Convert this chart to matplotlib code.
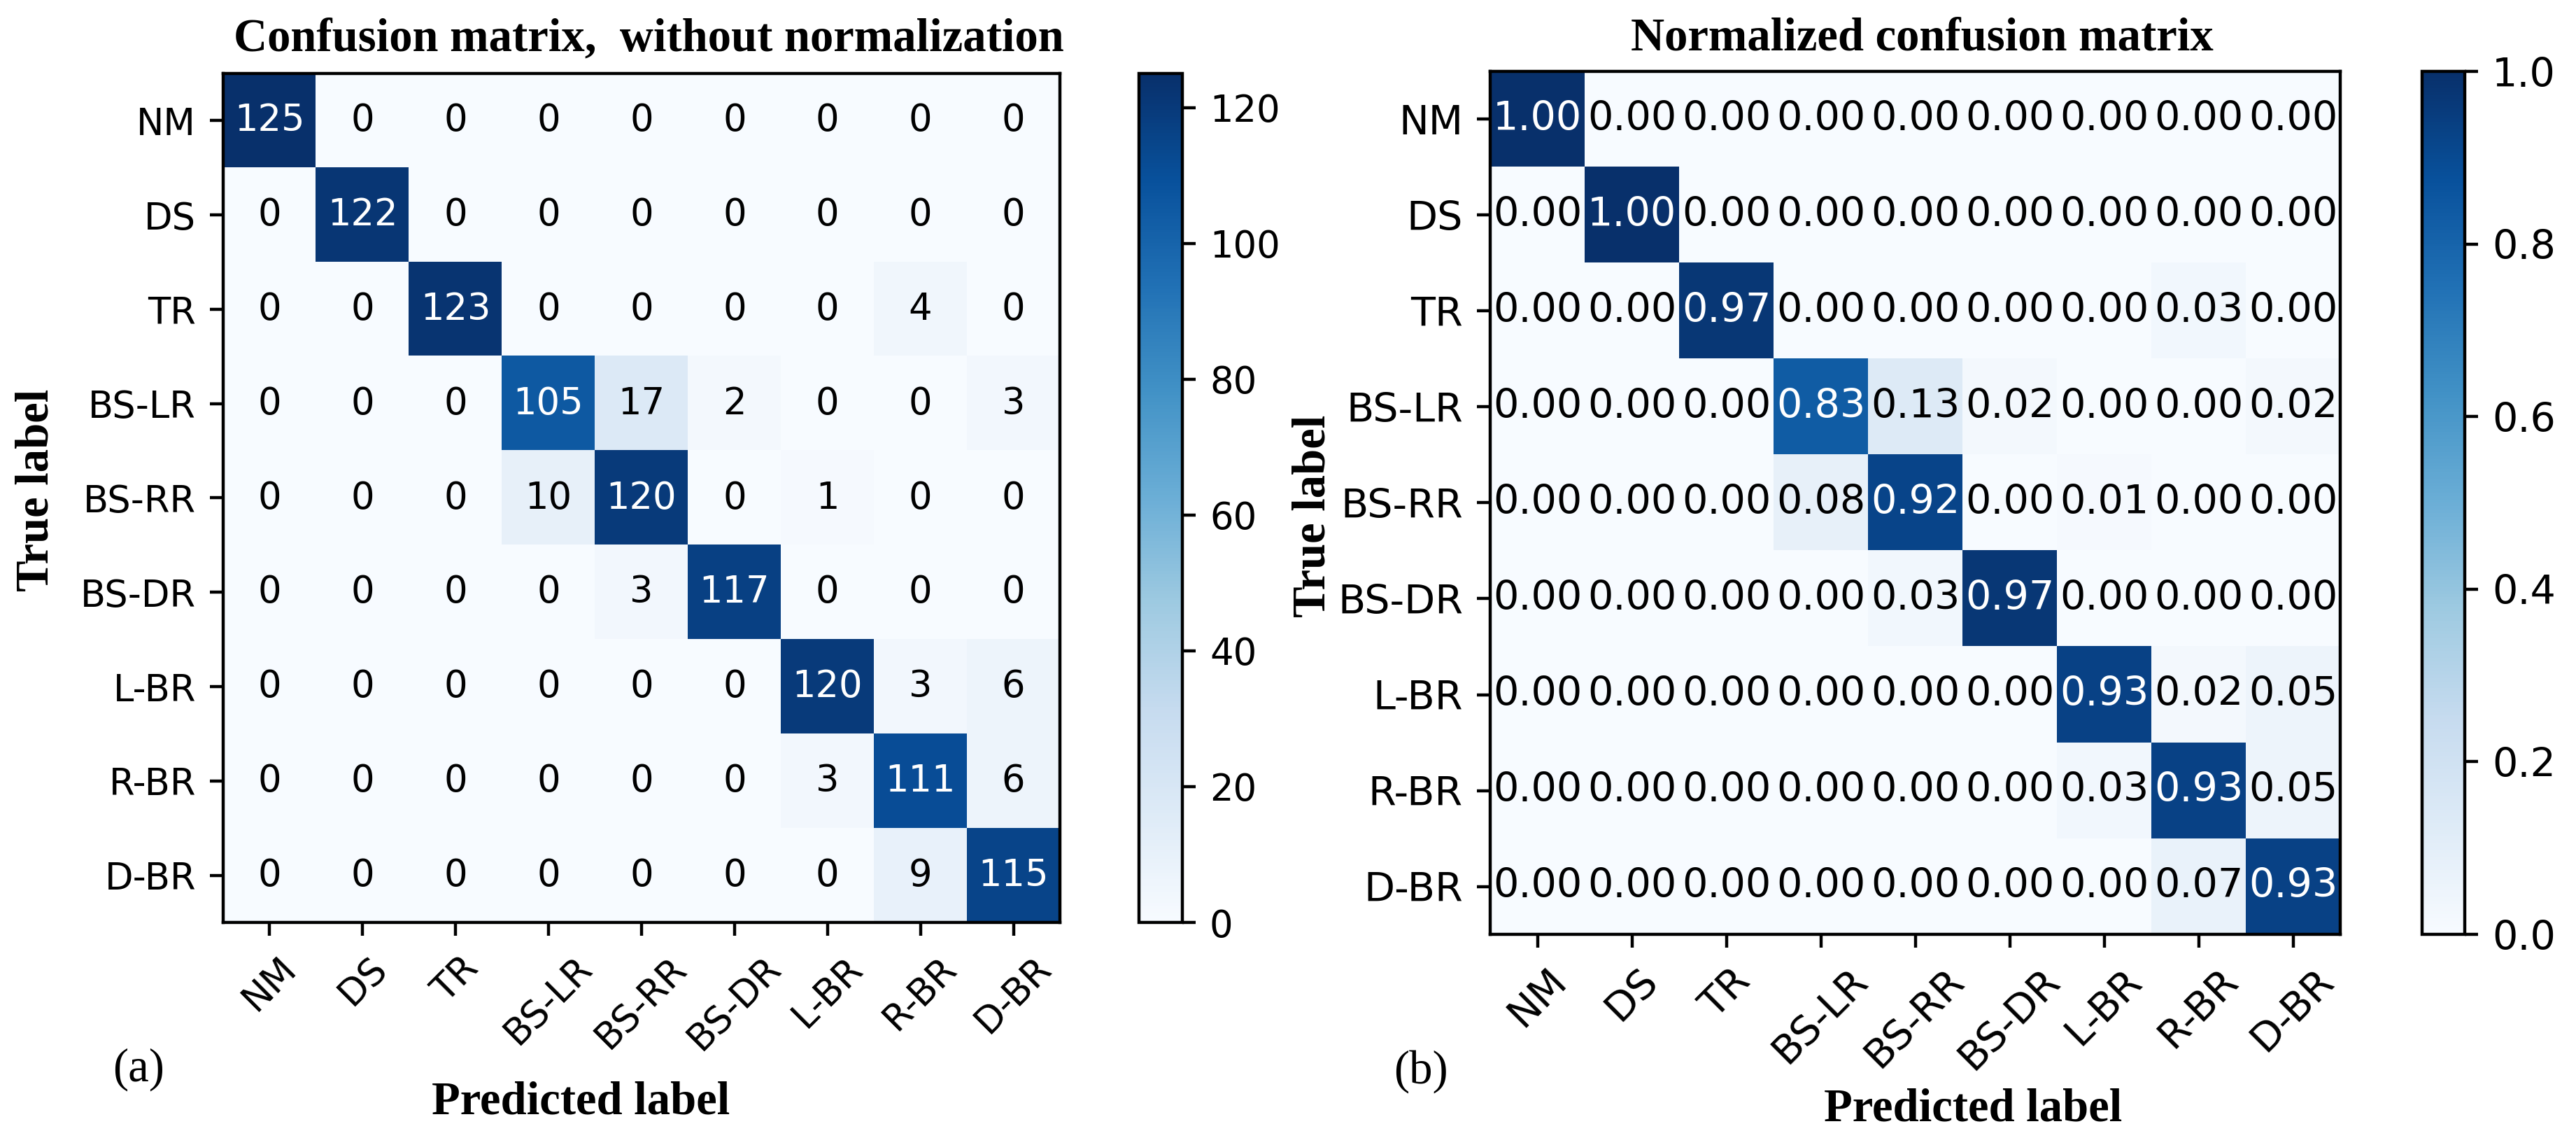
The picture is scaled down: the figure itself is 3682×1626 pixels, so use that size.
import numpy as np
import matplotlib
matplotlib.use("Agg")
import matplotlib.pyplot as plt

# class names and raw counts
classes = ['NM', 'DS', 'TR', 'BS-LR', 'BS-RR', 'BS-DR', 'L-BR', 'R-BR', 'D-BR']

counts = [
    [125, 0, 0, 0, 0, 0, 0, 0, 0],
    [0, 122, 0, 0, 0, 0, 0, 0, 0],
    [0, 0, 123, 0, 0, 0, 0, 4, 0],
    [0, 0, 0, 105, 17, 2, 0, 0, 3],
    [0, 0, 0, 10, 120, 0, 1, 0, 0],
    [0, 0, 0, 0, 3, 117, 0, 0, 0],
    [0, 0, 0, 0, 0, 0, 120, 3, 6],
    [0, 0, 0, 0, 0, 0, 3, 111, 6],
    [0, 0, 0, 0, 0, 0, 0, 9, 115],
]

# normalized values as printed in the right panel
normalized = [
    [1.00, 0.00, 0.00, 0.00, 0.00, 0.00, 0.00, 0.00, 0.00],
    [0.00, 1.00, 0.00, 0.00, 0.00, 0.00, 0.00, 0.00, 0.00],
    [0.00, 0.00, 0.97, 0.00, 0.00, 0.00, 0.00, 0.03, 0.00],
    [0.00, 0.00, 0.00, 0.83, 0.13, 0.02, 0.00, 0.00, 0.02],
    [0.00, 0.00, 0.00, 0.08, 0.92, 0.00, 0.01, 0.00, 0.00],
    [0.00, 0.00, 0.00, 0.00, 0.03, 0.97, 0.00, 0.00, 0.00],
    [0.00, 0.00, 0.00, 0.00, 0.00, 0.00, 0.93, 0.02, 0.05],
    [0.00, 0.00, 0.00, 0.00, 0.00, 0.00, 0.03, 0.93, 0.05],
    [0.00, 0.00, 0.00, 0.00, 0.00, 0.00, 0.00, 0.07, 0.93],
]

W, H = 3682, 1626
SERIF = ['Liberation Serif', 'DejaVu Serif']


def px_box(x0, y0, x1, y1):
    # pixel box (top-left origin) -> figure fraction rect
    return [x0 / W, 1 - y1 / H, (x1 - x0) / W, (y1 - y0) / H]


def plot_cm(fig, cm, rect, cbar_rect, fmt, fs):
    cm = np.array(cm)
    ax = fig.add_axes(rect)
    cax = fig.add_axes(cbar_rect)
    im = ax.imshow(cm, interpolation='nearest', cmap=plt.cm.Blues, aspect='auto')
    cb = fig.colorbar(im, cax=cax)
    cb.ax.tick_params(labelsize=fs)
    tick_marks = np.arange(len(classes))
    ax.set_xticks(tick_marks)
    ax.set_xticklabels(classes, rotation=45, fontsize=fs)
    ax.set_yticks(tick_marks)
    ax.set_yticklabels(classes, fontsize=fs)

    thresh = cm.max() / 2.
    for i in range(cm.shape[0]):
        for j in range(cm.shape[1]):
            ax.text(j, i, format(cm[i, j], fmt), ha='center', va='center',
                    fontsize=fs,
                    color='white' if cm[i, j] > thresh else 'black')
    return ax


fig = plt.figure(figsize=(W / 400, H / 400), dpi=400)

plot_cm(fig, counts, px_box(319, 105, 1515, 1318), px_box(1628, 105, 1690, 1318), 'd', 9.5)
plot_cm(fig, normalized, px_box(2130, 102, 3345, 1335), px_box(3462, 102, 3523, 1335), '.2f', 10.3)

# labels were put on by hand in the paper, so place them in figure coords
fig.text(927 / W, 1 - 56 / H, 'Confusion matrix,  without normalization', ha='center', va='center',
         fontsize=12, fontweight='bold', family=SERIF)
fig.text(2747 / W, 1 - 55 / H, 'Normalized confusion matrix', ha='center', va='center',
         fontsize=12, fontweight='bold', family=SERIF)
fig.text(52 / W, 1 - 700 / H, 'True label', rotation=90, ha='center', va='center',
         fontsize=12, fontweight='bold', family=SERIF)
fig.text(1877 / W, 1 - 737 / H, 'True label', rotation=90, ha='center', va='center',
         fontsize=12, fontweight='bold', family=SERIF)
fig.text(830 / W, 1 - 1575 / H, 'Predicted label', ha='center', va='center',
         fontsize=12, fontweight='bold', family=SERIF)
fig.text(2820 / W, 1 - 1585 / H, 'Predicted label', ha='center', va='center',
         fontsize=12, fontweight='bold', family=SERIF)
fig.text(198 / W, 1 - 1528 / H, '(a)', ha='center', va='center', fontsize=12, family=SERIF)
fig.text(2031 / W, 1 - 1531 / H, '(b)', ha='center', va='center', fontsize=12, family=SERIF)

fig.savefig('out.png', dpi=400)
